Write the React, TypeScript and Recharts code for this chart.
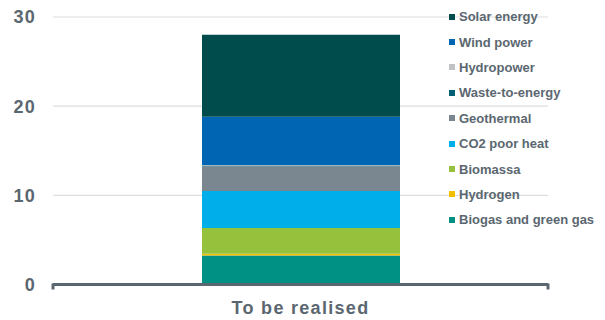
import { BarChart, Bar, XAxis, YAxis, CartesianGrid, Legend } from "recharts";

const categories = ["To be realised"];
const seriesNames = [
  "Biogas and green gas",
  "Hydrogen",
  "Biomassa",
  "CO2 poor heat",
  "Geothermal",
  "Waste-to-energy",
  "Hydropower",
  "Wind power",
  "Solar energy",
];
const seriesValues = [3.25, 0.2, 2.9, 4.15, 2.75, 0.1, 0.05, 5.4, 9.2];
const seriesColors = [
  "#009084",
  "#f2bf00",
  "#96c13d",
  "#00aee9",
  "#7a8690",
  "#005f73",
  "#c0c2c4",
  "#0066b3",
  "#004c4c",
];
const yTicks = [0, 10, 20, 30];

const data = categories.map((name) => {
  const row: Record<string, string | number> = { name };
  seriesNames.forEach((s, i) => {
    row[s] = seriesValues[i];
  });
  return row;
});

const textColor = "#5b6770";
const font = "'Liberation Sans', Arial, sans-serif";

function LegendContent() {
  const items = seriesNames.map((s, i) => ({ name: s, color: seriesColors[i] })).reverse();
  return (
    <div style={{ fontFamily: font, fontWeight: 700, fontSize: 13, color: textColor }}>
      {items.map((it) => (
        <div key={it.name} style={{ height: 25.4, display: "flex", alignItems: "center" }}>
          <span style={{ width: 6, height: 6, background: it.color, marginRight: 4, display: "inline-block" }} />
          <span>{it.name}</span>
        </div>
      ))}
    </div>
  );
}

// category label plus the small tick marks at the category edges
function CategoryTick(props: any) {
  const { x, y, payload, width, visibleTicksCount } = props;
  const band = width / (visibleTicksCount || 1);
  return (
    <g>
      <line x1={x - band / 2} x2={x - band / 2} y1={y - 1} y2={y + 5} stroke={textColor} strokeWidth={3} />
      <line x1={x + band / 2} x2={x + band / 2} y1={y - 1} y2={y + 5} stroke={textColor} strokeWidth={3} />
      <text
        x={x}
        y={y + 29.5}
        textAnchor="middle"
        fill={textColor}
        fontSize={18}
        fontWeight={700}
        fontFamily={font}
        letterSpacing={1.3}
      >
        {payload.value}
      </text>
    </g>
  );
}

export default function App() {
  return (
    <div style={{ position: "absolute", left: 0, top: 0, width: 605, height: 320, background: "#fff" }}>
      <BarChart
        width={605}
        height={320}
        data={data}
        margin={{ top: 17, right: 57, left: 0, bottom: 0 }}
        style={{ fontFamily: font, fontWeight: 700 }}
      >
        <CartesianGrid vertical={false} stroke="#dedede" strokeWidth={1.2} />
        <XAxis
          dataKey="name"
          height={35.5}
          tickSize={0}
          tickMargin={0}
          axisLine={{ stroke: textColor, strokeWidth: 3 }}
          tickLine={false}
          tick={<CategoryTick />}
        />
        <YAxis
          domain={[0, 30]}
          ticks={yTicks}
          width={53}
          tickSize={0}
          tickMargin={17}
          axisLine={false}
          tickLine={false}
          tick={{ fill: textColor, fontSize: 18, fontWeight: 700, fontFamily: font, letterSpacing: 1.3 }}
        />
        <Legend
          layout="vertical"
          align="center"
          verticalAlign="middle"
          wrapperStyle={{ left: 449, top: 4, width: 160, height: 230 }}
          content={LegendContent}
        />
        {seriesNames.map((s, i) => (
          <Bar key={s} dataKey={s} stackId="a" fill={seriesColors[i]} barSize={198} isAnimationActive={false} />
        ))}
      </BarChart>
    </div>
  );
}
